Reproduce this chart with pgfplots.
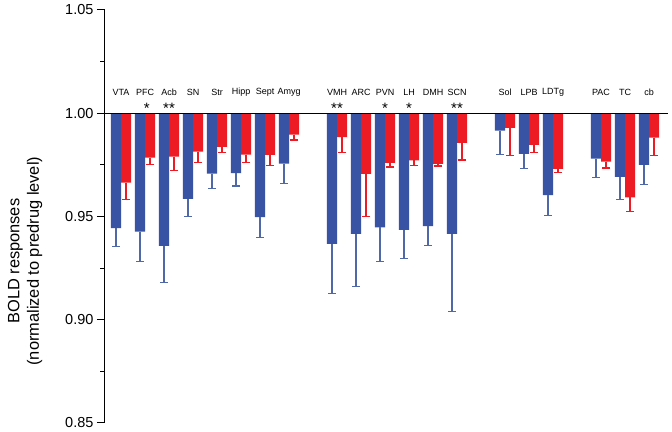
\documentclass[border=0pt]{standalone}
\usepackage{fontspec}
\setmainfont{Liberation Sans}
\usepackage{pgfplots}
\pgfplotsset{compat=1.18}
\usepackage{pgfplotstable}
\definecolor{barblue}{RGB}{56,82,164}
\definecolor{errblue}{RGB}{80,104,168}
\definecolor{barred}{RGB}{237,28,36}

% x = slot, b/be = blue bar and its error, r/re = red bar and its error
\pgfplotstableread{
x  b      be     r      re
0  0.9444 0.0089 0.9664 0.0080
1  0.9427 0.0145 0.9785 0.0035
2  0.9358 0.0179 0.9790 0.0068
3  0.9585 0.0085 0.9814 0.0054
4  0.9708 0.0071 0.9837 0.0027
5  0.9710 0.0062 0.9800 0.0040
6  0.9497 0.0099 0.9798 0.0051
7  0.9756 0.0095 0.9896 0.0026
9  0.9368 0.0239 0.9884 0.0073
10 0.9416 0.0256 0.9706 0.0206
11 0.9447 0.0165 0.9760 0.0020
12 0.9435 0.0138 0.9772 0.0025
13 0.9453 0.0092 0.9755 0.0010
14 0.9416 0.0377 0.9856 0.0082
16 0.9916 0.0116 0.9929 0.0134
17 0.9803 0.0071 0.9847 0.0036
18 0.9603 0.0098 0.9730 0.0016
20 0.9780 0.0091 0.9766 0.0031
21 0.9692 0.0110 0.9592 0.0068
22 0.9750 0.0095 0.9882 0.0087
}\bold

\begin{document}
\begin{tikzpicture}
\begin{axis}[
  scale only axis, width=563pt, height=413pt,
  xmin=-0.667, xmax=22.79, ymin=0.85, ymax=1.05,
  y coord trafo/.code={\pgfmathparse{#1-1}},
  y coord inv trafo/.code={\pgfmathparse{#1+1}},
  axis x line=middle, axis y line=left,
  axis line style={-, line width=1pt, black},
  every inner x axis line/.append style={-},
  every outer y axis line/.append style={-},
  xtick=\empty,
  ytick={0.85,0.9,0.95,1.0,1.05},
  minor ytick={0.875,0.925,0.975,1.025},
  tick align=outside, major tick length=8pt, minor tick length=4.5pt,
  every tick/.style={black, line width=1pt},
  yticklabel style={/pgf/number format/.cd, fixed, fixed zerofill, precision=2, assume math mode=true},
  ticklabel style={font=\fontsize{14.5}{16}\selectfont},
  every axis y label/.style={at={([xshift=-80pt]rel axis cs:0,0.392)}, rotate=90, anchor=center,
    align=center, font=\fontsize{16.4}{19.5}\selectfont},
  ylabel={BOLD responses\\(normalized to predrug level)},
  clip=false,
]
\addplot[ybar, bar width=0.42, bar shift=-0.21, fill=barblue, draw=none,
  error bars/.cd, y dir=minus, y explicit,
  error bar style={errblue, line width=1.2pt, xshift=-5.04pt},
  error mark options={rotate=90, mark size=4pt, line width=1.2pt, errblue}]
  table[x=x, y=b, y error=be] {\bold};
\addplot[ybar, bar width=0.42, bar shift=0.21, fill=barred, draw=none,
  error bars/.cd, y dir=minus, y explicit,
  error bar style={barred, line width=1.2pt, xshift=5.04pt},
  error mark options={rotate=90, mark size=4pt, line width=1.2pt, barred}]
  table[x=x, y=r, y error=re] {\bold};
\draw[line width=1pt] (axis cs:-0.667,1) -- (axis cs:22.79,1);

\tikzset{lab/.style={font=\fontsize{9}{10}\selectfont}, star/.style={font=\fontsize{15}{16}\selectfont}}
\node[lab] at (axis cs:0,1.0101) {VTA};
\node[lab] at (axis cs:1,1.0101) {PFC};
\node[lab] at (axis cs:2,1.0101) {Acb};
\node[lab] at (axis cs:3,1.0101) {SN};
\node[lab] at (axis cs:4,1.0101) {Str};
\node[lab] at (axis cs:5,1.0101) {Hipp};
\node[lab] at (axis cs:6,1.0101) {Sept};
\node[lab] at (axis cs:7,1.0101) {Amyg};
\node[lab] at (axis cs:9,1.0101) {VMH};
\node[lab] at (axis cs:10,1.0101) {ARC};
\node[lab] at (axis cs:11,1.0101) {PVN};
\node[lab] at (axis cs:12,1.0101) {LH};
\node[lab] at (axis cs:13,1.0101) {DMH};
\node[lab] at (axis cs:14,1.0101) {SCN};
\node[lab] at (axis cs:16,1.0101) {Sol};
\node[lab] at (axis cs:17,1.0101) {LPB};
\node[lab] at (axis cs:18,1.0101) {LDTg};
\node[lab] at (axis cs:20,1.0101) {PAC};
\node[lab] at (axis cs:21,1.0101) {TC};
\node[lab] at (axis cs:22,1.0101) {cb};

\node[star] at (axis cs:1.07,1.0022) {*};
\node[star] at (axis cs:2,1.0022) {**};
\node[star] at (axis cs:9,1.0022) {**};
\node[star] at (axis cs:11,1.0022) {*};
\node[star] at (axis cs:12,1.0022) {*};
\node[star] at (axis cs:14,1.0022) {**};

\coordinate (bl) at (rel axis cs:0,0);
\coordinate (tr) at (rel axis cs:1,1);
\end{axis}
\path ([shift={(-105pt,-8pt)}]bl) rectangle ([shift={(4pt,10pt)}]tr);
\end{tikzpicture}
\end{document}
